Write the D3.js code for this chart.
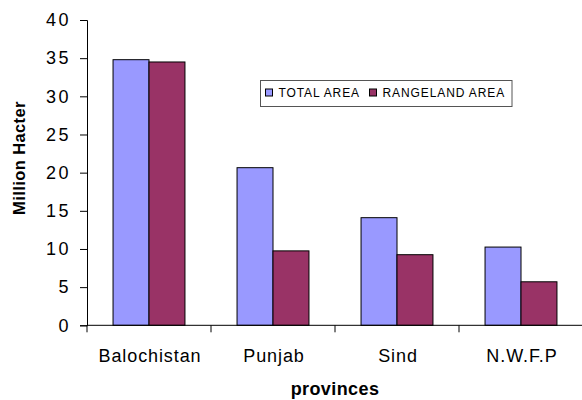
<!DOCTYPE html>
<html><head><meta charset="utf-8">
<script src="https://cdn.jsdelivr.net/npm/d3@7"></script>
<style>body{margin:0;background:#fff}svg{display:block}text{font-family:Arial,"Liberation Sans",sans-serif}</style>
</head><body>
<script>
const categories = ["Balochistan","Punjab","Sind","N.W.F.P"];
const seriesNames = ["TOTAL AREA","RANGELAND AREA"];
const totalArea = [34.8, 20.65, 14.1, 10.25];
const rangelandArea = [34.5, 9.75, 9.25, 5.7];
const yTicks = [0,5,10,15,20,25,30,35,40];
const colors = ["#9999FF","#993366"];

const W=582,H=400;
const m={left:87,top:20,right:583,bottom:325.3};
const svg=d3.select("body").append("svg").attr("width",W).attr("height",H);
const x=d3.scaleBand().domain(categories).range([m.left,m.right]).paddingInner(0).paddingOuter(0);
const y=d3.scaleLinear().domain([0,40]).range([m.bottom,m.top]);
const bw=x.bandwidth()*0.29;
const series=[totalArea,rangelandArea];

series.forEach((vals,si)=>{
  svg.append("g").selectAll("rect").data(vals).join("rect")
    .attr("x",(d,i)=>x(categories[i])+x.bandwidth()/2-bw+si*bw)
    .attr("y",d=>y(d))
    .attr("width",bw)
    .attr("height",d=>y(0)-y(d))
    .attr("fill",colors[si]).attr("stroke","#000").attr("stroke-width",1);
});

const ya=svg.append("g").attr("transform",`translate(${m.left},0)`)
  .call(d3.axisLeft(y).tickValues(yTicks).tickSize(7).tickPadding(12));
ya.select(".domain").attr("stroke","#000");
ya.selectAll(".tick line").attr("stroke","#000");
ya.selectAll("text").attr("font-size",18).attr("fill","#000").attr("letter-spacing",2.5).attr("dx",3);

svg.append("line").attr("x1",m.left).attr("x2",m.right).attr("y1",y(0)).attr("y2",y(0)).attr("stroke","#000");
const bounds=categories.map(c=>x(c)).concat([m.right]);
svg.append("g").selectAll("line").data(bounds).join("line")
  .attr("x1",d=>d).attr("x2",d=>d).attr("y1",y(0)).attr("y2",y(0)+7).attr("stroke","#000");
svg.append("g").selectAll("text").data(categories).join("text")
  .attr("x",d=>x(d)+x.bandwidth()/2+1).attr("y",362).attr("text-anchor","middle")
  .attr("font-size",18).attr("letter-spacing",0.9).attr("fill","#000").text(d=>d);

svg.append("text").attr("transform",`translate(25,158) rotate(-90)`).attr("text-anchor","middle")
  .attr("font-size",16.5).attr("font-weight","bold").attr("letter-spacing",0.4).text("Million Hacter");
svg.append("text").attr("x",335).attr("y",395).attr("text-anchor","middle")
  .attr("font-size",18).attr("font-weight","bold").attr("letter-spacing",0.4).text("provinces");

const lg=svg.append("g");
lg.append("rect").attr("x",260.5).attr("y",80.5).attr("width",251.5).attr("height",26).attr("fill","#fff").attr("stroke","#555");
const lx=[265.5,369.5];
seriesNames.forEach((n,i)=>{
  lg.append("rect").attr("x",lx[i]).attr("y",89).attr("width",7).attr("height",7).attr("fill",colors[i]).attr("stroke","#000");
  lg.append("text").attr("x",lx[i]+13).attr("y",97).attr("font-size",12).attr("letter-spacing",0.9).attr("fill","#000").text(n);
});
</script>
</body></html>
